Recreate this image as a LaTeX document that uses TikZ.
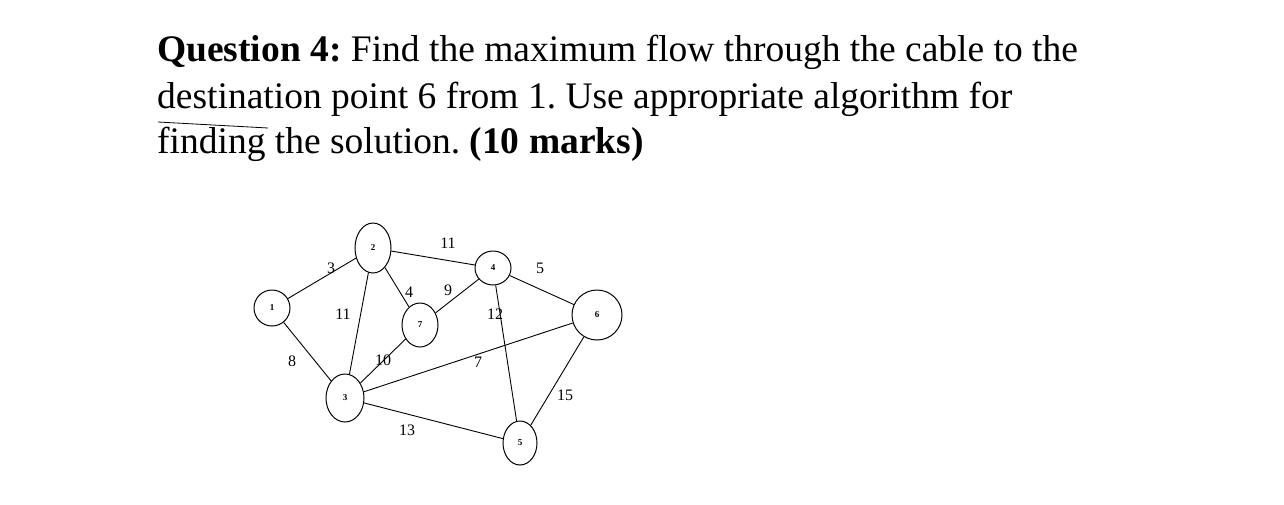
\documentclass[tikz,border=0pt]{standalone}
\usepackage{fontspec}
\setmainfont{Liberation Serif}
\usetikzlibrary{shapes.geometric}
\begin{document}
\frenchspacing
\begin{tikzpicture}[x=1pt,y=-1pt,
  vtx/.style={draw,ellipse,line width=1pt,inner sep=0pt,font=\fontsize{9}{9}\selectfont\bfseries},
  edge/.style={line width=0.9pt},
  ttl/.style={anchor=base west,inner sep=0pt,font=\fontsize{37.5}{37.5}\selectfont},
  wt/.style={font=\fontsize{16}{16}\selectfont}]
\useasboundingbox (0,0) rectangle (1284,504);
\node[ttl] (l1) at (157,61) {\textbf{Question 4:} Find the maximum flow through the cable to the};
\node[ttl] (l2) at (157,108) {destination point 6 from 1. Use appropriate algorithm for};
\node[ttl] (l3) at (157,153) {finding the solution. \textbf{(10 marks)}};
\coordinate (s1) at (158,122); \coordinate (s2) at (268,128);
\draw[line width=0.8pt] (s1) -- (s2);
\node[vtx,minimum width=36,minimum height=36] (n1) at (272,308) {1};
\node[vtx,minimum width=36,minimum height=50] (n2) at (373,248) {2};
\node[vtx,minimum width=38,minimum height=48] (n3) at (345,398) {3};
\node[vtx,minimum width=36,minimum height=34] (n4) at (493,268) {4};
\node[vtx,minimum width=34,minimum height=44] (n5) at (520,443) {5};
\node[vtx,minimum width=50,minimum height=50] (n6) at (597,315) {6};
\node[vtx,minimum width=36,minimum height=44] (n7) at (420,325) {7};
\draw[edge] (n1)--(n2); \draw[edge] (n1)--(n3);
\draw[edge] (n2)--(n4); \draw[edge] (n2)--(n7); \draw[edge] (n2)--(n3);
\draw[edge] (n4)--(n7); \draw[edge] (n4)--(n6); \draw[edge] (n4)--(n5);
\draw[edge] (n7)--(n3); \draw[edge] (n3)--(n6); \draw[edge] (n3)--(n5);
\draw[edge] (n6)--(n5);
\node[wt] (w1) at (331,268) {3};
\node[wt] (w2) at (448,243) {11};
\node[wt] (w3) at (540,268) {5};
\node[wt] (w4) at (409,292) {4};
\node[wt] (w5) at (448,290) {9};
\node[wt] (w6) at (343,314) {11};
\node[wt] (w7) at (495,314) {12};
\node[wt] (w8) at (292,361) {8};
\node[wt] (w9) at (383,360) {10};
\node[wt] (w10) at (478,362) {7};
\node[wt] (w11) at (565,395) {15};
\node[wt] (w12) at (407,430) {13};
\end{tikzpicture}
\end{document}
